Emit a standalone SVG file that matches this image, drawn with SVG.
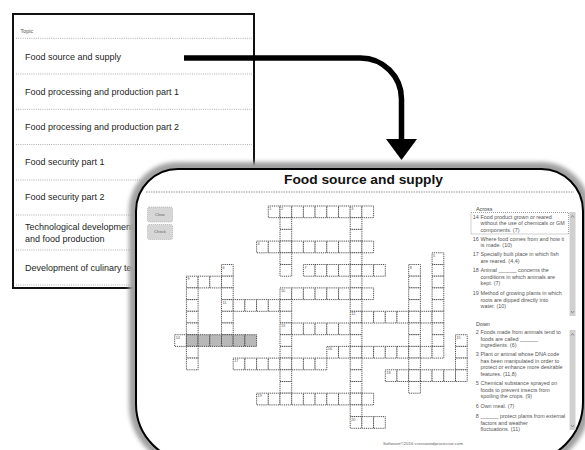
<svg xmlns="http://www.w3.org/2000/svg" width="585" height="450" viewBox="0 0 585 450">
<defs>
<style>
.t{font-family:"Liberation Sans",Arial,sans-serif}
.topic{font-size:9px;fill:#1e1e1e}
.sep{stroke:#9a9a9a;stroke-width:0.8;stroke-dasharray:1 1.2;fill:none}
.clue{font-size:5.4px;fill:#555}
.cn{font-size:5.4px;fill:#555;text-anchor:end}
.num{font-size:3.8px;fill:#555}
.k{fill:#fff;stroke:#333;stroke-width:0.075;stroke-dasharray:0.09 0.07}
.s{fill:#b8b8b8;stroke:#333;stroke-width:0.075;stroke-dasharray:0.09 0.07}
.btn{fill:#d6d6d6;stroke:#a0a0a0;stroke-width:0.6;stroke-dasharray:1 1}
.bt{font-size:4.2px;fill:#666;text-anchor:middle}
.sb{fill:#d0d0d0}
.chev{fill:none;stroke:#666;stroke-width:0.6}
</style>
<rect id="k" class="k" width="1" height="1"/>
<rect id="s" class="s" width="1" height="1"/>
<filter id="blur" x="-10%" y="-10%" width="120%" height="120%"><feGaussianBlur stdDeviation="2.2"/></filter>
<path id="panel" d="M136,211 A42,42 0 0 1 178,169 H541 A42,42 0 0 1 583,211 V402 A60,60 0 0 1 523,462 H194 A58,58 0 0 1 136,404 Z"/>
<marker id="head" markerUnits="userSpaceOnUse" viewBox="0 0 21 31" markerWidth="21" markerHeight="31" refX="0" refY="15.5" orient="auto">
<path d="M0,0 L21,15.5 L0,31 Z" fill="#000"/>
</marker>
</defs>

<g id="topic-list" class="t">
<rect x="13" y="14" width="241" height="274" fill="#fff" stroke="#111" stroke-width="2"/>
<text x="20.5" y="33" font-size="5.5" fill="#555">Topic</text>
<path class="sep" d="M16,38.3H252M16,74H252M16,109.3H252M16,144.5H252M16,180H252M16,215H252M16,250H252M16,285H252"/>
<text class="topic" x="25" y="59.5">Food source and supply</text>
<text class="topic" x="25" y="94.5">Food processing and production part 1</text>
<text class="topic" x="25" y="129.5">Food processing and production part 2</text>
<text class="topic" x="25" y="164.7">Food security part 1</text>
<text class="topic" x="25" y="200">Food security part 2</text>
<text class="topic" x="25" y="229.5">Technological developments</text>
<text class="topic" x="25" y="242">and food production</text>
<text class="topic" x="25" y="271">Development of culinary techniques</text>
</g>

<g id="connectors">
<path d="M184,58 H360.5 A41,41 0 0 1 401.5,99 V139" fill="none" stroke="#000" stroke-width="5.5" marker-end="url(#head)"/>
</g>

<g id="crossword-panel" class="t">
<use href="#panel" fill="none" stroke="#a0a0a0" stroke-width="14" filter="url(#blur)"/>
<use href="#panel" fill="#fff" stroke="#000" stroke-width="2"/>
<text x="363.5" y="184" font-size="13" font-weight="bold" fill="#111" text-anchor="middle" textLength="159" lengthAdjust="spacingAndGlyphs">Food source and supply</text>
<line x1="146" y1="192" x2="574" y2="192" stroke="#666" stroke-width="0.7" stroke-dasharray="1.5 1"/>

<rect class="btn" x="147.5" y="207" width="25" height="15" rx="1.5"/>
<rect class="btn" x="147.5" y="224.5" width="25" height="15" rx="1.5"/>
<text class="bt" x="160" y="215.8">Clear</text>
<text class="bt" x="160" y="233.3">Check</text>

<g id="grid" transform="translate(174.7,206) scale(11.7)">
<g><use href="#k" x="8"/><use href="#k" x="9"/><use href="#k" x="10"/><use href="#k" x="11"/><use href="#k" x="12"/><use href="#k" x="13"/><use href="#k" x="14"/><use href="#k" x="15"/><use href="#k" x="16"/></g>
<g transform="translate(0,1)"><use href="#k" x="9"/><use href="#k" x="15"/></g>
<g transform="translate(0,2)"><use href="#k" x="9"/><use href="#k" x="15"/></g>
<g transform="translate(0,3)"><use href="#k" x="7"/><use href="#k" x="8"/><use href="#k" x="9"/><use href="#k" x="10"/><use href="#k" x="11"/><use href="#k" x="12"/><use href="#k" x="13"/><use href="#k" x="14"/><use href="#k" x="15"/><use href="#k" x="16"/></g>
<g transform="translate(0,4)"><use href="#k" x="9"/><use href="#k" x="15"/><use href="#k" x="22"/></g>
<g transform="translate(0,5)"><use href="#k" x="4"/><use href="#k" x="9"/><use href="#k" x="11"/><use href="#k" x="12"/><use href="#k" x="13"/><use href="#k" x="14"/><use href="#k" x="15"/><use href="#k" x="16"/><use href="#k" x="17"/><use href="#k" x="20"/><use href="#k" x="22"/></g>
<g transform="translate(0,6)"><use href="#k" x="1"/><use href="#k" x="2"/><use href="#k" x="3"/><use href="#k" x="4"/><use href="#k" x="15"/><use href="#k" x="20"/><use href="#k" x="22"/></g>
<g transform="translate(0,7)"><use href="#k" x="1"/><use href="#k" x="4"/><use href="#k" x="9"/><use href="#k" x="10"/><use href="#k" x="11"/><use href="#k" x="12"/><use href="#k" x="13"/><use href="#k" x="14"/><use href="#k" x="15"/><use href="#k" x="16"/><use href="#k" x="20"/><use href="#k" x="22"/></g>
<g transform="translate(0,8)"><use href="#k" x="1"/><use href="#k" x="4"/><use href="#k" x="5"/><use href="#k" x="6"/><use href="#k" x="7"/><use href="#k" x="8"/><use href="#k" x="9"/><use href="#k" x="15"/><use href="#k" x="20"/><use href="#k" x="22"/></g>
<g transform="translate(0,9)"><use href="#k" x="1"/><use href="#k" x="4"/><use href="#k" x="9"/><use href="#k" x="15"/><use href="#k" x="16"/><use href="#k" x="17"/><use href="#k" x="18"/><use href="#k" x="19"/><use href="#k" x="20"/><use href="#k" x="21"/><use href="#k" x="22"/></g>
<g transform="translate(0,10)"><use href="#k" x="1"/><use href="#k" x="4"/><use href="#k" x="9"/><use href="#k" x="10"/><use href="#k" x="11"/><use href="#k" x="12"/><use href="#k" x="13"/><use href="#k" x="14"/><use href="#k" x="15"/><use href="#k" x="20"/><use href="#k" x="22"/></g>
<g transform="translate(0,11)"><use href="#k" x="0"/><use href="#s" x="1"/><use href="#s" x="2"/><use href="#s" x="3"/><use href="#s" x="4"/><use href="#s" x="5"/><use href="#s" x="6"/><use href="#k" x="9"/><use href="#k" x="15"/><use href="#k" x="20"/><use href="#k" x="22"/><use href="#k" x="24"/></g>
<g transform="translate(0,12)"><use href="#k" x="1"/><use href="#k" x="9"/><use href="#k" x="13"/><use href="#k" x="14"/><use href="#k" x="15"/><use href="#k" x="16"/><use href="#k" x="17"/><use href="#k" x="18"/><use href="#k" x="19"/><use href="#k" x="20"/><use href="#k" x="21"/><use href="#k" x="22"/><use href="#k" x="24"/></g>
<g transform="translate(0,13)"><use href="#k" x="1"/><use href="#k" x="5"/><use href="#k" x="6"/><use href="#k" x="7"/><use href="#k" x="8"/><use href="#k" x="9"/><use href="#k" x="10"/><use href="#k" x="11"/><use href="#k" x="12"/><use href="#k" x="15"/><use href="#k" x="20"/><use href="#k" x="24"/></g>
<g transform="translate(0,14)"><use href="#k" x="9"/><use href="#k" x="15"/><use href="#k" x="18"/><use href="#k" x="19"/><use href="#k" x="20"/><use href="#k" x="21"/><use href="#k" x="22"/><use href="#k" x="23"/><use href="#k" x="24"/></g>
<g transform="translate(0,15)"><use href="#k" x="9"/><use href="#k" x="15"/><use href="#k" x="20"/></g>
<g transform="translate(0,16)"><use href="#k" x="7"/><use href="#k" x="8"/><use href="#k" x="9"/><use href="#k" x="10"/><use href="#k" x="11"/><use href="#k" x="12"/><use href="#k" x="13"/><use href="#k" x="14"/><use href="#k" x="15"/><use href="#k" x="16"/></g>
<g transform="translate(0,17)"><use href="#k" x="15"/></g>
<g transform="translate(0,18)"><use href="#k" x="15"/><use href="#k" x="16"/><use href="#k" x="17"/></g>
</g>

<g id="grid-numbers" class="num">
<text x="269.3" y="210">1</text>
<text x="281" y="210">2</text>
<text x="351.2" y="210">3</text>
<text x="257.6" y="245.1">4</text>
<text x="433.1" y="256.8">5</text>
<text x="222.5" y="268.5">6</text>
<text x="304.4" y="268.5">7</text>
<text x="409.7" y="268.5">8</text>
<text x="187.4" y="280.2">9</text>
<text x="281" y="291.9">10</text>
<text x="222.5" y="303.6">11</text>
<text x="351.2" y="315.3">12</text>
<text x="281" y="327">13</text>
<text x="175.7" y="338.7">14</text>
<text x="456.5" y="338.7">15</text>
<text x="327.8" y="350.4">16</text>
<text x="234.2" y="362.1">17</text>
<text x="386.3" y="373.8">18</text>
<text x="257.6" y="397.2">19</text>
<text x="351.2" y="420.6">20</text>
</g>

<g id="clues">
<rect class="sb" x="569.5" y="212" width="6" height="104"/>
<rect class="sb" x="569.5" y="330" width="6" height="100"/>
<path class="chev" d="M571,217.5 L572.5,215.5 L574,217.5 M571,311 L572.5,313 L574,311 M571,335.5 L572.5,333.5 L574,335.5 M571,425 L572.5,427 L574,425"/>
<text x="476" y="210.5" font-size="5.4" fill="#444">Across</text>
<rect x="471" y="212.5" width="97.5" height="21.5" fill="none" stroke="#666" stroke-width="0.6" stroke-dasharray="1 1"/>
<text class="cn" x="478.8" y="218.5">14</text>
<text class="clue" x="480.5" y="218.5">Food product grown or reared</text>
<text class="clue" x="480.5" y="225">without the use of chemicals or GM</text>
<text class="clue" x="480.5" y="231.5">components. (7)</text>
<text class="cn" x="478.8" y="240.5">16</text>
<text class="clue" x="480.5" y="240.5">Where food comes from and how it</text>
<text class="clue" x="480.5" y="247">is made. (10)</text>
<text class="cn" x="478.8" y="256">17</text>
<text class="clue" x="480.5" y="256">Specially built place in which fish</text>
<text class="clue" x="480.5" y="262.5">are reared. (4,4)</text>
<text class="cn" x="478.8" y="272">18</text>
<text class="clue" x="480.5" y="272">Animal ______ concerns the</text>
<text class="clue" x="480.5" y="278.5">conditions in which animals are</text>
<text class="clue" x="480.5" y="285">kept. (7)</text>
<text class="cn" x="478.8" y="295">19</text>
<text class="clue" x="480.5" y="295">Method of growing plants in which</text>
<text class="clue" x="480.5" y="301.5">roots are dipped directly into</text>
<text class="clue" x="480.5" y="308">water. (10)</text>

<text x="476" y="326" font-size="5.4" fill="#444">Down</text>
<text class="cn" x="478.8" y="334">2</text>
<text class="clue" x="480.5" y="334">Foods made from animals tend to</text>
<text class="clue" x="480.5" y="340.5">foods are called ______</text>
<text class="clue" x="480.5" y="347">ingredients. (6)</text>
<text class="cn" x="478.8" y="356">3</text>
<text class="clue" x="480.5" y="356">Plant or animal whose DNA code</text>
<text class="clue" x="480.5" y="362.5">has been manipulated in order to</text>
<text class="clue" x="480.5" y="369">protect or enhance more desirable</text>
<text class="clue" x="480.5" y="375.5">features. (11,8)</text>
<text class="cn" x="478.8" y="385">5</text>
<text class="clue" x="480.5" y="385">Chemical substance sprayed on</text>
<text class="clue" x="480.5" y="391.5">foods to prevent insects from</text>
<text class="clue" x="480.5" y="398">spoiling the crops. (9)</text>
<text class="cn" x="478.8" y="408">6</text>
<text class="clue" x="480.5" y="408">Own meal. (7)</text>
<text class="cn" x="478.8" y="418">8</text>
<text class="clue" x="480.5" y="418">______ protect plants from external</text>
<text class="clue" x="480.5" y="424.5">factors and weather</text>
<text class="clue" x="480.5" y="431">fluctuations. (11)</text>
</g>
<text x="383" y="445" font-size="4.4" fill="#666">Software©2016 crosswordprocessor.com</text>
</g>
</svg>
